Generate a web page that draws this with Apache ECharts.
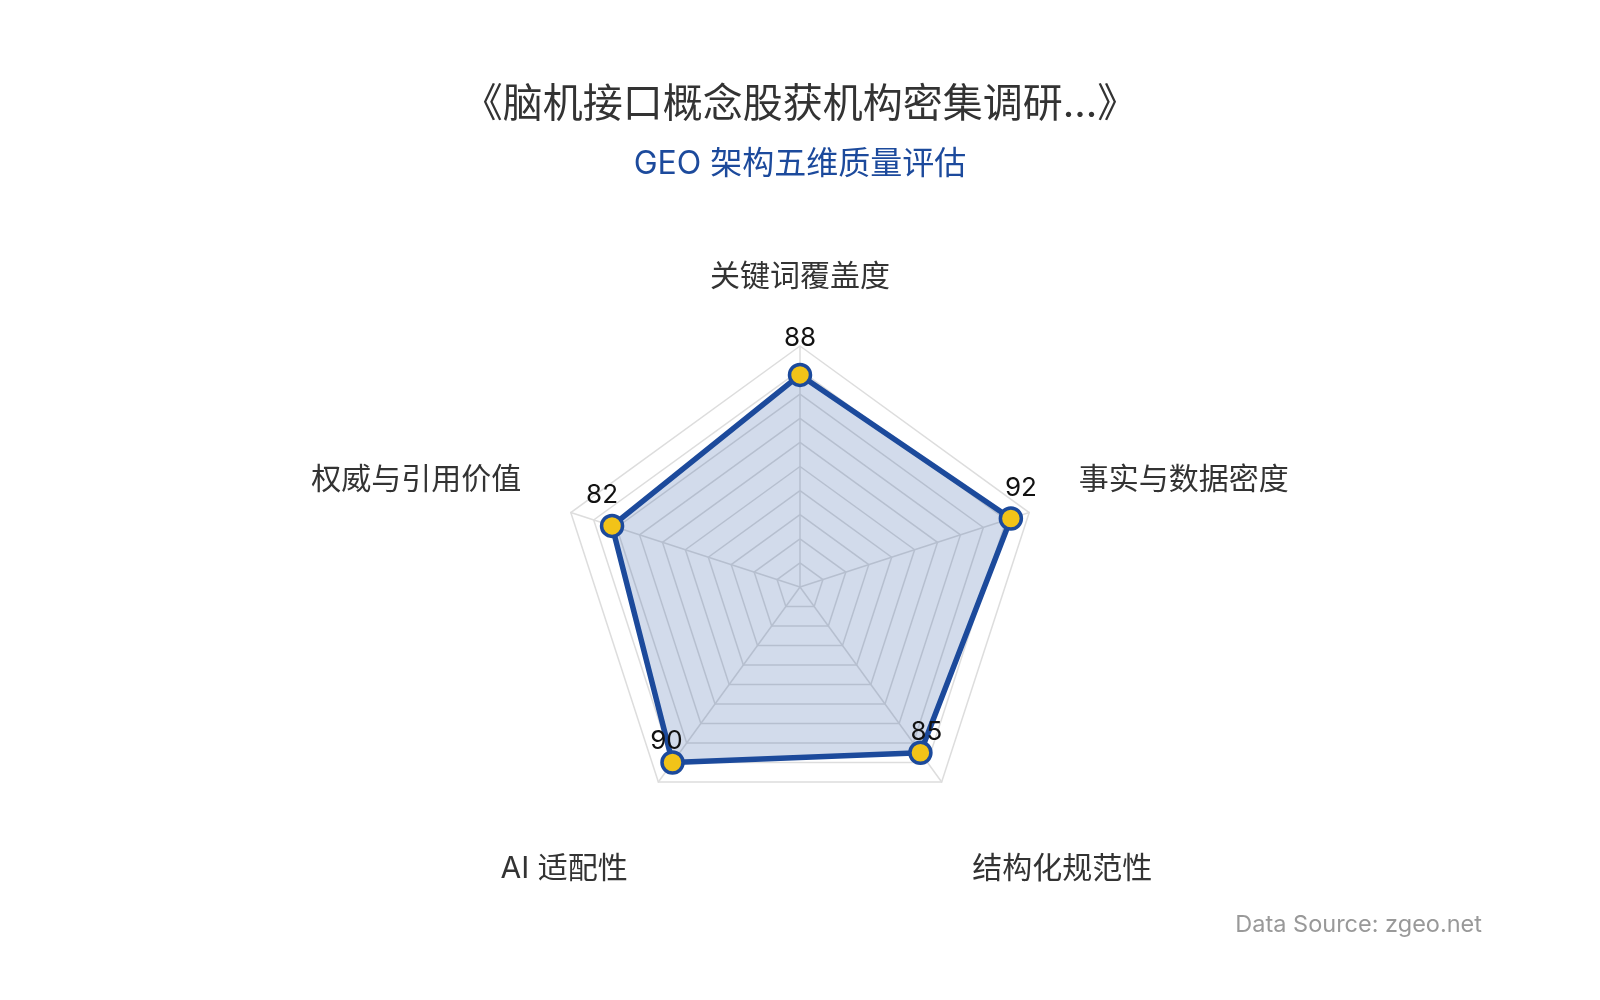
<!DOCTYPE html>
<html>
<head>
<meta charset="utf-8">
<script src="https://cdn.jsdelivr.net/npm/echarts@6/dist/echarts.min.js"></script>
<style>html,body{margin:0;padding:0;background:#fff}#c{width:1600px;height:1000px}</style>
</head>
<body>
<div id="c"></div>
<script>
const titleText = '《脑机接口概念股获机构密集调研...》';
const subTitleText = 'GEO 架构五维质量评估';
const sourceText = 'Data Source: zgeo.net';
const indicatorNames = ['关键词覆盖度', '权威与引用价值', 'AI 适配性', '结构化规范性', '事实与数据密度'];
const indicatorMax = [100, 100, 100, 100, 100];
const seriesValues = [88, 82, 90, 85, 92];

const FONT = "Inter, 'Noto Sans CJK SC', sans-serif";

// label paddings (styling only): shift value labels slightly outward like the reference
const valuePad = [
  [0, 0, 74, 0],
  [0, 20, 62, 0],
  [0, 12, 42, 0],
  [0, 0, 42, 12],
  [0, 0, 60, 20]
];
const namePad = [
  [0, 0, 2, 0],
  [0, 0, 32, 0],
  [90, 0, 0, 0],
  [90, 0, 0, 0],
  [0, 0, 32, 0]
];
const valueRich = {};
valuePad.forEach((p, i) => {
  valueRich['v' + i] = { padding: p, color: '#111111', fontSize: 26, fontFamily: FONT };
});
const nameRich = {};
namePad.forEach((p, i) => {
  nameRich['n' + i] = { padding: p, color: '#333333', fontSize: 30, fontFamily: FONT };
});

const chart = echarts.init(document.getElementById('c'));
chart.setOption({
  backgroundColor: '#ffffff',
  textStyle: { fontFamily: FONT },
  title: [
    { text: titleText, left: 'center', top: 80,
      textStyle: { fontSize: 40, fontWeight: 'normal', color: '#333333', fontFamily: FONT } },
    { text: subTitleText, left: 'center', top: 143,
      textStyle: { fontSize: 32, fontWeight: 'normal', color: '#1c4a9c', fontFamily: FONT } }
  ],
  graphic: [{
    type: 'text', right: 118, top: 913,
    style: { text: sourceText, fill: '#999999', fontSize: 23.5, fontFamily: FONT }
  }],
  radar: {
    center: ['50%', 587],
    radius: 241,
    startAngle: 90,
    splitNumber: 10,
    shape: 'polygon',
    nameGap: 52,
    axisName: {
      color: '#333333', fontSize: 30, fontFamily: FONT,
      formatter: (name) => '{n' + indicatorNames.indexOf(name) + '|' + name + '}',
      rich: nameRich
    },
    indicator: indicatorNames.map((n, i) => ({ name: n, max: indicatorMax[i], min: 0 })),
    splitLine: { lineStyle: { color: '#dddddd', width: 1.5 } },
    splitArea: { show: false },
    axisLine: { lineStyle: { color: '#dddddd', width: 1.5 } }
  },
  series: [{
    type: 'radar',
    symbol: 'circle',
    symbolSize: 21,
    lineStyle: { color: '#1c4a9c', width: 5.5 },
    itemStyle: { color: '#F2C318', borderColor: '#1c4a9c', borderWidth: 3.5 },
    areaStyle: { color: '#1c4a9c', opacity: 0.2 },
    label: {
      show: true, position: 'inside', color: '#111111', fontSize: 26, fontFamily: FONT,
      formatter: (p) => '{v' + seriesValues.indexOf(p.value) + '|' + p.value + '}',
      rich: valueRich
    },
    data: [{ value: seriesValues, name: 'GEO' }]
  }]
});
</script>
</body>
</html>
